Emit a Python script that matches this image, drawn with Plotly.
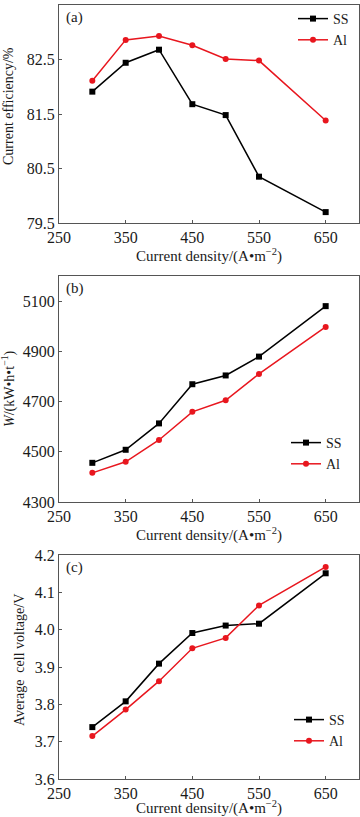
import plotly.graph_objects as go
from plotly.subplots import make_subplots

current_density = [300, 350, 400, 450, 500, 550, 650]

eff_ss = [81.91, 82.44, 82.68, 81.68, 81.48, 80.35, 79.70]
eff_al = [82.11, 82.86, 82.93, 82.76, 82.51, 82.48, 81.38]

w_ss = [4456, 4508, 4613, 4769, 4804, 4879, 5080]
w_al = [4416, 4460, 4547, 4659, 4705, 4810, 4997]

v_ss = [3.739, 3.808, 3.909, 3.991, 4.011, 4.016, 4.151]
v_al = [3.715, 3.786, 3.862, 3.950, 3.978, 4.065, 4.168]

x_ticks = [250, 350, 450, 550, 650]
eff_ticks = [79.5, 80.5, 81.5, 82.5, 83.5]
w_ticks = [4300, 4500, 4700, 4900, 5100]
v_ticks = [3.6, 3.7, 3.8, 3.9, 4.0, 4.1, 4.2]

FONT = "Liberation Serif, Times New Roman, serif"
FRAME = "#555555"
TXT = "#1a1a1a"
H = 817.0
W = 360.0

fig = make_subplots(rows=3, cols=1)

panels = [
    (1, eff_ss, eff_al, "Current efficiency/%", [79.5, 83.5], eff_ticks,
     [f"{t:.1f}" for t in eff_ticks], 9, 106),
    (2, w_ss, w_al, "<i>W</i>/(kW\u2022h\u2022t<sup>\u22121</sup>)", [4300, 5200], w_ticks,
     [str(t) for t in w_ticks], 8, 389),
    (3, v_ss, v_al, "Average  cell voltage/V", [3.6, 4.2], v_ticks,
     [f"{t:.1f}" for t in v_ticks], 19, 660),
]

for row, ss, al, ytitle, yrange, yt, ytl, tx, ty in panels:
    leg = "legend" if row == 1 else f"legend{row}"
    fig.add_trace(go.Scatter(x=current_density, y=ss, mode="lines+markers", name="SS",
                             line=dict(color="black", width=1.5),
                             marker=dict(symbol="square", size=6, color="black"),
                             legend=leg), row=row, col=1)
    fig.add_trace(go.Scatter(x=current_density, y=al, mode="lines+markers", name="Al",
                             line=dict(color="#e8161e", width=1.5),
                             marker=dict(symbol="circle", size=6, color="#e8161e"),
                             legend=leg), row=row, col=1)
    fig.update_xaxes(range=[250, 700], tickvals=x_ticks, ticks="inside", ticklen=3,
                     tickcolor=FRAME, showline=True, linecolor=FRAME, linewidth=1, mirror=True,
                     showgrid=False, zeroline=False, automargin=False,
                     title=dict(text="Current density/(A\u2022m<sup>\u22122</sup>)", standoff=0,
                                font=dict(family=FONT, size=15, color=TXT)),
                     tickfont=dict(family=FONT, size=16, color=TXT), row=row, col=1)
    fig.update_yaxes(range=yrange, tickvals=yt, ticktext=ytl, ticks="inside", ticklen=3,
                     tickcolor=FRAME, showline=True, linecolor=FRAME, linewidth=1, mirror=True,
                     showgrid=False, zeroline=False, automargin=False,
                     tickfont=dict(family=FONT, size=16, color=TXT), row=row, col=1)
    fig.add_annotation(text=ytitle, x=tx / W, y=1 - ty / H, xref="paper", yref="paper",
                       xanchor="center", yanchor="middle", textangle=-90, showarrow=False,
                       font=dict(family=FONT, size=14, color=TXT))

xd = [59 / W, 359 / W]
fig.update_layout(
    xaxis=dict(domain=xd), xaxis2=dict(domain=xd), xaxis3=dict(domain=xd),
    yaxis=dict(domain=[1 - 223 / H, 1 - 5 / H]),
    yaxis2=dict(domain=[1 - 502 / H, 1 - 276 / H]),
    yaxis3=dict(domain=[1 - 779 / H, 1 - 555 / H]),
)

leg_common = dict(font=dict(family=FONT, size=14, color=TXT), bgcolor="rgba(0,0,0,0)",
                  itemwidth=30, tracegroupgap=0, xanchor="left", yanchor="top")
fig.update_layout(
    legend=dict(x=293 / W, y=1 - 3 / H, **leg_common),
    legend2=dict(x=286 / W, y=1 - 427 / H, **leg_common),
    legend3=dict(x=289 / W, y=1 - 704 / H, **leg_common),
)

for label, ax in [("(a)", ""), ("(b)", "2"), ("(c)", "3")]:
    fig.add_annotation(text=label, x=0.015, y=0.99, xref=f"x{ax} domain", yref=f"y{ax} domain",
                       xanchor="left", yanchor="top", showarrow=False,
                       font=dict(family=FONT, size=15, color=TXT))

fig.update_layout(width=360, height=817, margin=dict(l=0, r=0, t=0, b=0),
                  plot_bgcolor="white", paper_bgcolor="white", showlegend=True)

fig.write_html("out.html", config={"displayModeBar": False},
               post_script="document.body.style.margin='0';")
